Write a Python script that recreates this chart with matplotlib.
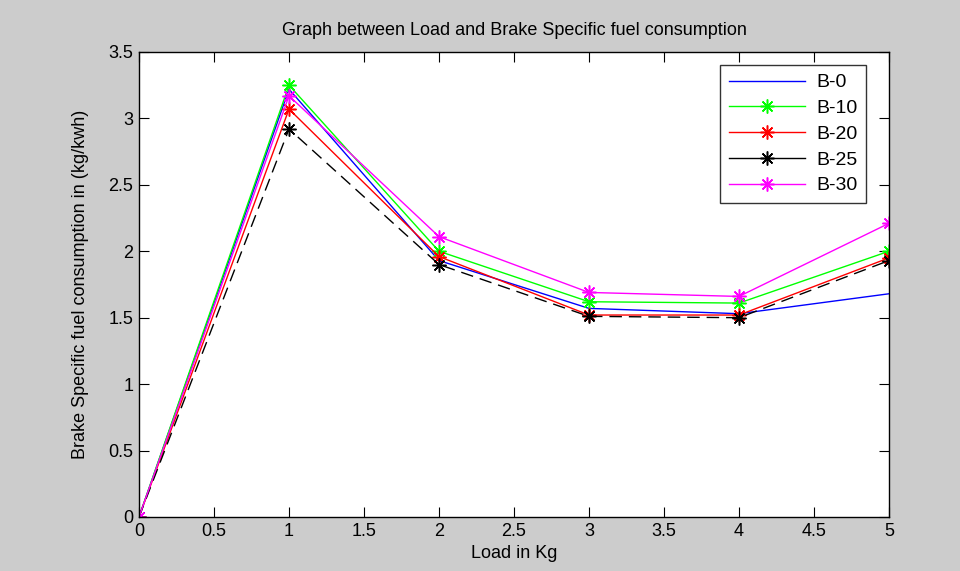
import matplotlib
matplotlib.use("Agg")
import matplotlib.pyplot as plt
from matplotlib.lines import Line2D

plt.rcParams['font.family'] = ['Liberation Sans', 'DejaVu Sans']

load = [0, 1, 2, 3, 4, 5]
b0 = [0, 3.22, 1.93, 1.57, 1.53, 1.68]
b10 = [0, 3.25, 2.00, 1.62, 1.61, 2.00]
b20 = [0, 3.07, 1.96, 1.52, 1.52, 1.95]
b25 = [0, 2.92, 1.90, 1.51, 1.50, 1.93]
b30 = [0, 3.17, 2.11, 1.69, 1.66, 2.21]
labels = ['B-0', 'B-10', 'B-20', 'B-25', 'B-30']

AST = (8, 2, 0)
fig = plt.figure(figsize=(9.6, 5.71), dpi=100, facecolor='#cccccc')
ax = fig.add_axes([0.1448, 0.0946, 0.7812, 0.8144])
ax.set_facecolor('white')

mk = dict(marker=AST, ms=10, mew=1.1)
ax.plot(load, b0, color='#0000ff', lw=1)
ax.plot(load, b10, color='#00ff00', lw=1, **mk)
ax.plot(load, b20, color='#ff0000', lw=1, **mk)
ax.plot(load, b25, color='black', lw=1, dashes=(9, 5), **mk)
ax.plot(load, b30, color='#ff00ff', lw=1, **mk)

handles = [
    Line2D([], [], color='#0000ff', lw=1),
    Line2D([], [], color='#00ff00', lw=1, **mk),
    Line2D([], [], color='#ff0000', lw=1, **mk),
    Line2D([], [], color='black', lw=1, **mk),
    Line2D([], [], color='#ff00ff', lw=1, **mk),
]
leg = ax.legend(handles, labels, loc='upper right', bbox_to_anchor=(0.97, 0.972),
                fontsize=14, frameon=True, fancybox=False, edgecolor='black',
                handlelength=3.9, borderpad=0.45, labelspacing=0.42, handletextpad=0.6,
                borderaxespad=0.0)
leg.get_frame().set_linewidth(1)

ax.set_xlim(0, 5)
ax.set_ylim(0, 3.5)
ax.set_xticks([0, 0.5, 1, 1.5, 2, 2.5, 3, 3.5, 4, 4.5, 5])
ax.set_xticklabels(['0', '0.5', '1', '1.5', '2', '2.5', '3', '3.5', '4', '4.5', '5'])
ax.set_yticks([0, 0.5, 1, 1.5, 2, 2.5, 3, 3.5])
ax.set_yticklabels(['0', '0.5', '1', '1.5', '2', '2.5', '3', '3.5'])
ax.tick_params(direction='in', top=True, right=True, length=7, labelsize=13, pad=4)
for s in ax.spines.values():
    s.set_linewidth(1)

ax.set_title('Graph between Load and Brake Specific fuel consumption', fontsize=13, pad=12)
ax.set_xlabel('Load in Kg', fontsize=13, labelpad=4)
ax.set_ylabel('Brake Specific fuel consumption in (kg/kwh)', fontsize=13, labelpad=14)

fig.savefig('out.png', dpi=100, facecolor=fig.get_facecolor())
